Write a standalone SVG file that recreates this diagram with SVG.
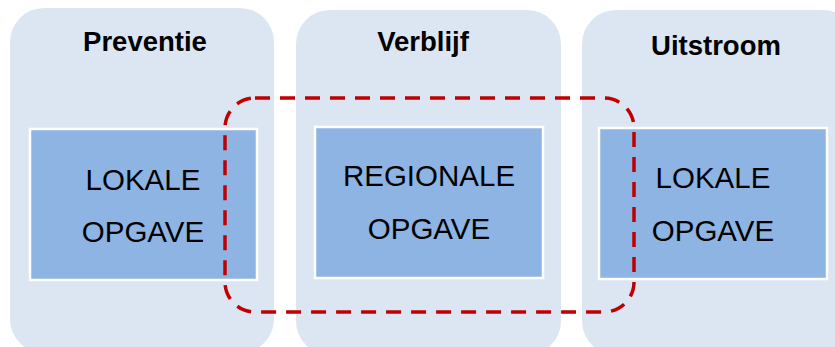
<svg xmlns="http://www.w3.org/2000/svg" width="835" height="347" viewBox="0 0 835 347">
<style>
.panel{fill:#DCE6F2;}
.box{fill:#8EB4E3;stroke:#FFFFFF;stroke-width:2.5;}
.title{font-family:"Liberation Sans",Arial,sans-serif;font-weight:bold;font-size:27.5px;fill:#000;text-anchor:middle;}
.lbl{font-family:"Liberation Sans",Arial,sans-serif;font-size:29.5px;fill:#000;text-anchor:middle;}
.dash{fill:none;stroke:#C00000;stroke-width:3.5;stroke-dasharray:15 10;}
</style>
<rect width="835" height="347" fill="#FFFFFF"/>
<g id="preventie">
<rect class="panel" x="10" y="8" width="264" height="345" rx="34"/>
<text class="title" x="145" y="51">Preventie</text>
<rect class="box" x="30" y="129" width="227" height="151"/>
<text class="lbl" x="143" y="190">LOKALE</text>
<text class="lbl" x="143" y="242">OPGAVE</text>
</g>
<g id="verblijf">
<rect class="panel" x="296" y="10" width="265" height="345" rx="34"/>
<text class="title" x="423" y="51">Verblijf</text>
<rect class="box" x="315" y="127" width="228" height="151"/>
<text class="lbl" x="429" y="186">REGIONALE</text>
<text class="lbl" x="429" y="239">OPGAVE</text>
</g>
<g id="uitstroom">
<rect class="panel" x="582" y="10" width="275" height="345" rx="34"/>
<text class="title" x="716" y="55">Uitstroom</text>
<rect class="box" x="599" y="128" width="228" height="151"/>
<text class="lbl" x="713" y="188">LOKALE</text>
<text class="lbl" x="713" y="241">OPGAVE</text>
</g>
<g id="connectors">
<rect class="dash" x="225" y="98" width="409" height="214" rx="30"/>
</g>
</svg>
